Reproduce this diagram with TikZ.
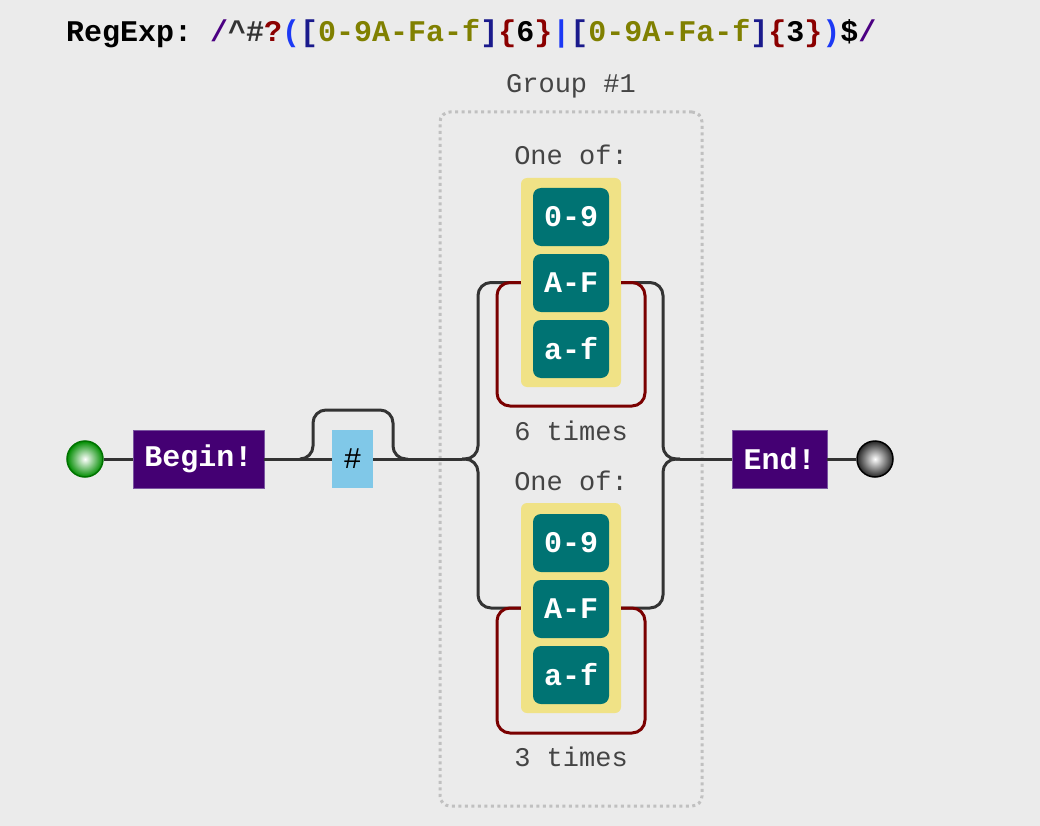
\documentclass[tikz,border=0pt]{standalone}
\usepackage{fontspec}
\setmonofont{Liberation Mono}

\definecolor{bgcol}{HTML}{EBEBEB}
\definecolor{wirecol}{HTML}{333333}
\definecolor{anchorcol}{HTML}{440073}
\definecolor{anchorline}{HTML}{7A55A0}
\definecolor{hashcol}{HTML}{80C8E8}
\definecolor{setcol}{HTML}{F0E286}
\definecolor{rangecol}{HTML}{007373}
\definecolor{loopcol}{HTML}{7A0000}
\definecolor{groupcol}{HTML}{C0C0C0}
\definecolor{notecol}{HTML}{444444}
\definecolor{rxslash}{HTML}{4B0082}
\definecolor{rxgrey}{HTML}{333333}
\definecolor{rxred}{HTML}{8B0000}
\definecolor{rxblue}{HTML}{1C39F5}
\definecolor{rxnavy}{HTML}{1A1A8C}
\definecolor{rxolive}{HTML}{808000}

\begin{document}
\begin{tikzpicture}[x=1pt,y=-1pt]
        \tikzset{every node/.style = {font=\ttfamily, inner sep=0pt},
          wire/.style = {draw=wirecol, line width=3pt, rounded corners=13pt},
          loopwire/.style = {draw=loopcol, line width=3pt, rounded corners=13pt},
          anchorbox/.style = {fill=anchorcol, draw=anchorline, line width=0.8pt, text=white,
            font=\ttfamily\bfseries\fontsize{30}{36}\selectfont, minimum height=58pt},
          hashbox/.style = {fill=hashcol, text=black, minimum width=41pt, minimum height=58pt,
            font=\ttfamily\fontsize{30}{36}\selectfont},
          setbox/.style = {fill=setcol, rounded corners=6pt, minimum width=100pt},
          rangebox/.style = {fill=rangecol, rounded corners=8pt, text=white, minimum width=76pt,
            minimum height=58pt, font=\ttfamily\bfseries\fontsize{30}{36}\selectfont},
          groupbox/.style = {draw=groupcol, line width=3pt, dash pattern=on 3pt off 3.5pt,
            rounded corners=10pt, minimum width=262pt, minimum height=694pt},
          note/.style = {text=notecol, font=\ttfamily\fontsize{27}{32}\selectfont},
          startdot/.style = {circle, draw=green!45!black, line width=1.5pt, shading=radial,
            inner color=white, outer color=green!55!black, minimum size=36pt},
          enddot/.style = {circle, draw=black, line width=1.5pt, shading=radial,
            inner color=white, outer color=black!85, minimum size=36pt}}

        \fill[bgcol] (0,0) rectangle (1040,826);
        \useasboundingbox (0,0) rectangle (1040,826);

        \node[anchor=base west, font=\ttfamily\bfseries\fontsize{30}{36}\selectfont] (title) at (66,42)
          {RegExp: \textcolor{rxslash}{/}\textcolor{rxgrey}{\textasciicircum\#}\textcolor{rxred}{?}%
           \textcolor{rxblue}{(}\textcolor{rxnavy}{[}\textcolor{rxolive}{0-9A-Fa-f}\textcolor{rxnavy}{]}%
           \textcolor{rxred}{\{}6\textcolor{rxred}{\}}\textcolor{rxblue}{|}%
           \textcolor{rxnavy}{[}\textcolor{rxolive}{0-9A-Fa-f}\textcolor{rxnavy}{]}%
           \textcolor{rxred}{\{}3\textcolor{rxred}{\}}\textcolor{rxblue}{)}\$\textcolor{rxslash}{/}};

        \node[groupbox] (grp) at (571,459) {};
        \node[note] (g) at (571,86) {Group \#1};

        \node[note] (o1) at (571,155) {One of:};
        \node[setbox, minimum height=209pt] (y1) at (571,282.5) {};
        \node[rangebox] (d1) at (571,217) {0-9};
        \node[rangebox] (u1) at (571,283) {A-F};
        \node[rangebox] (w1) at (571,349) {a-f};
        \node[note] (n1) at (571,431) {6 times};

        \node[note] (o2) at (571,481) {One of:};
        \node[setbox, minimum height=210pt] (y2) at (571,608) {};
        \node[rangebox] (d2) at (571,543) {0-9};
        \node[rangebox] (u2) at (571,609) {A-F};
        \node[rangebox] (w2) at (571,675) {a-f};
        \node[note] (n2) at (571,757) {3 times};

        \node[startdot] (s) at (85,459) {};
        \node[anchorbox, minimum width=131pt] (b) at (198.5,459) {Begin!};
        \node[hashbox] (h) at (352.5,459) {\#};
        \node[anchorbox, minimum width=95pt] (e) at (779.5,459) {End!};
        \node[enddot] (t) at (875,459) {};

        \coordinate (p) at (300,459);
        \coordinate (k) at (393,410);
        \coordinate (q) at (408,459);
        \coordinate (l) at (462,459);
        \coordinate (r) at (680,459);
        \coordinate (c1) at (497,406);
        \coordinate (c2) at (645,282.5);
        \coordinate (c3) at (497,733);
        \coordinate (c4) at (645,608);

        \draw[wire] (s) -- (b);
        \draw[wire] (b) -- (h);
        \draw[wire] (h) -- (l);
        \draw[wire] (p) -- ++(13,0) |- (k) |- (q);

        \draw[wire] (l) -- ++(16,0) |- (y1.west);
        \draw[wire] (l) -- ++(16,0) |- (y2.west);
        \draw[wire] (r) -- ++(-17,0) |- (y1.east);
        \draw[wire] (r) -- ++(-17,0) |- (y2.east);
        \draw[wire] (r) -- (e);
        \draw[wire] (e) -- (t);

        \draw[loopwire] (y1.west) -| (c1) -| (c2) -- (y1.east);
        \draw[loopwire] (y2.west) -| (c3) -| (c4) -- (y2.east);

    \end{tikzpicture}
\end{document}
